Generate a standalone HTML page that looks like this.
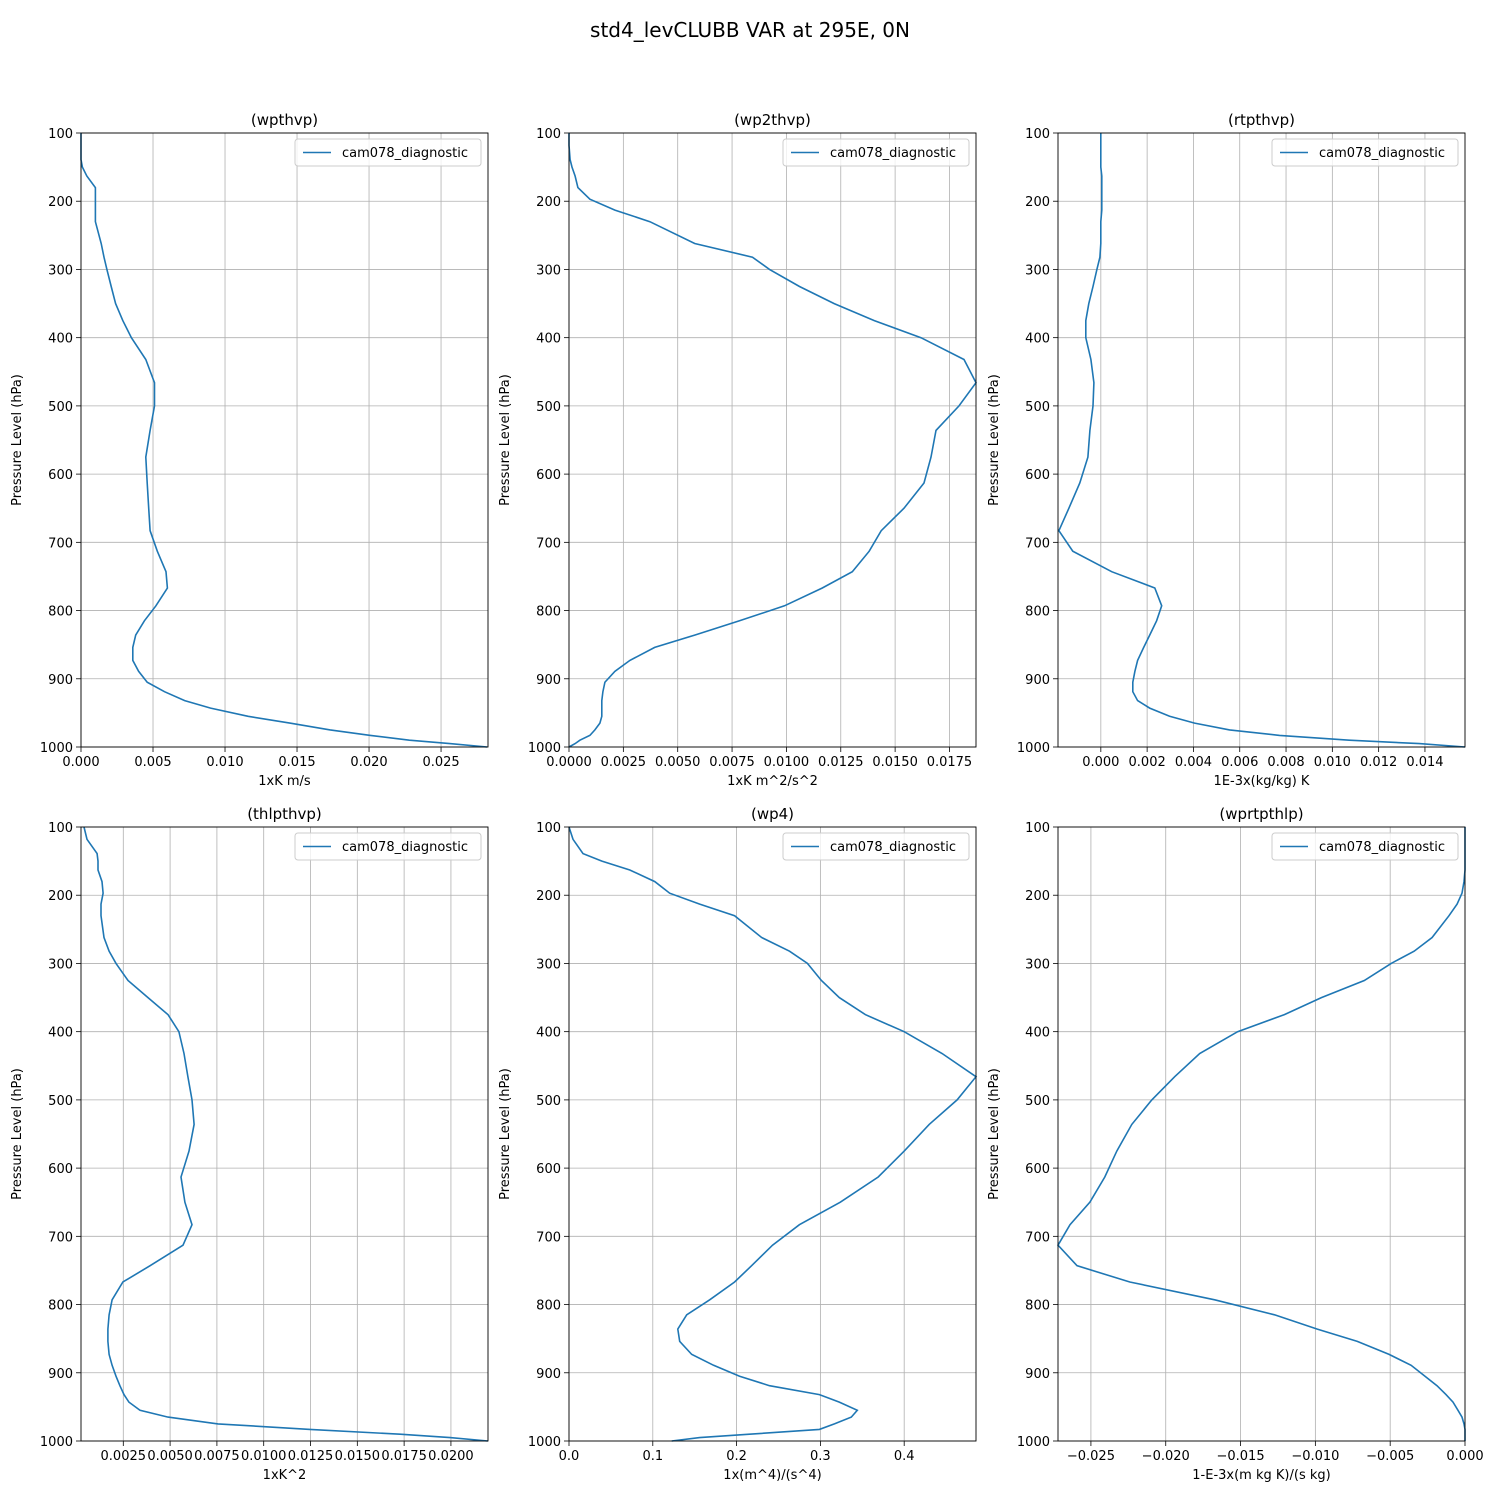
<!DOCTYPE html>
<html><head><meta charset="utf-8"><style>
body{margin:0;background:#fff;font-family:"Liberation Sans","DejaVu Sans",sans-serif}
svg text{font-family:"DejaVu Sans","Liberation Sans",sans-serif}
</style></head><body>
<svg id="fig" width="1500" height="1500" xmlns="http://www.w3.org/2000/svg">
<rect width="1500" height="1500" fill="#fff"/>
<text x="750" y="37" text-anchor="middle" font-size="20">std4_levCLUBB VAR at 295E, 0N</text>
</svg>
<script>
const pressure=[100,118,139,150,163,180,197,213,230,262,282,300,325,350,375,400,432,466,500,536,575,613,650,683,713,743,767,793,815,836,854,873,889,905,919,932,943,955,965,975,983,990,995,1000];
const wpthvp=[0,0,0,0.0001,0.0004,0.001,0.001,0.001,0.001,0.0014,0.0016,0.0018,0.0021,0.0024,0.0029,0.0035,0.0045,0.0051,0.0051,0.0048,0.0045,0.0046,0.0047,0.0048,0.0053,0.0059,0.006,0.0052,0.0044,0.0038,0.0036,0.0036,0.004,0.0046,0.0058,0.0072,0.009,0.0116,0.0145,0.0173,0.0201,0.0228,0.0256,0.0282];
const wp2thvp_px=[569,569,570,572,575,578,590,615,650,695,753,770,800,835,875,922,965,977,960,937,932,925,905,882,870,853,823,785,740,695,655,630,615,605,603,602,602,602,600,595,590,580,575,569];
const wp2thvp=wp2thvp_px.map(x=>+((x-569)/21800).toFixed(5));
const rtpthvp=[1101,1101,1101,1101,1102,1102,1102,1102,1101,1101,1100,1097,1093,1089,1086,1086,1091,1094,1093,1090,1088,1080,1069,1059,1073,1112,1155,1162,1157,1150,1144,1138,1135,1133,1133,1138,1150,1170,1195,1230,1280,1350,1420,1466].map(x=>+((x-1101)/23200).toFixed(5));
const thlpthvp=[84,87,97,98,98,102,103,101,101,104,109,116,128,148,168,179,184,188,192,194,189,181,185,192,183,150,123,112,109,108,108,109,112,116,120,124,129,140,168,218,310,400,450,488].map(x=>+(0.000241+(x-81)/18727).toFixed(5));
const wp4=[569,573,583,602,630,655,670,700,735,762,790,808,822,840,866,905,943,977,958,930,905,879,841,800,773,752,735,710,687,678,680,692,714,740,770,820,840,858,852,835,820,750,700,672].map(x=>+((x-569)/840).toFixed(4));
const wprtpthlp=[1466,1466,1466,1466,1466,1465,1463,1458,1450,1433,1415,1392,1365,1322,1285,1238,1200,1175,1152,1132,1117,1105,1090,1070,1058,1077,1130,1215,1275,1318,1358,1390,1412,1426,1438,1447,1454,1459,1463,1465,1466,1466,1466,1466].map(x=>+((x-1466)/15000).toFixed(5));
const yTicks=[100,200,300,400,500,600,700,800,900,1000];
const panels=[
 {name:"wpthvp",vals:wpthvp,x0:81,y0:133,xmin:0,xmax:0.02826,ticks:[0,0.005,0.01,0.015,0.02,0.025],dec:3,xl:"1xK m/s"},
 {name:"wp2thvp",vals:wp2thvp,x0:569,y0:133,xmin:0,xmax:0.01872,ticks:[0,0.0025,0.005,0.0075,0.01,0.0125,0.015,0.0175],dec:4,xl:"1xK m^2/s^2"},
 {name:"rtpthvp",vals:rtpthvp,x0:1058,y0:133,xmin:-0.00185,xmax:0.01573,ticks:[0,0.002,0.004,0.006,0.008,0.01,0.012,0.014],dec:3,xl:"1E-3x(kg/kg) K"},
 {name:"thlpthvp",vals:thlpthvp,x0:81,y0:827,xmin:0.000241,xmax:0.02198,ticks:[0.0025,0.005,0.0075,0.01,0.0125,0.015,0.0175,0.02],dec:4,xl:"1xK^2"},
 {name:"wp4",vals:wp4,x0:569,y0:827,xmin:0,xmax:0.4857,ticks:[0,0.1,0.2,0.3,0.4],dec:1,xl:"1x(m^4)/(s^4)"},
 {name:"wprtpthlp",vals:wprtpthlp,x0:1058,y0:827,xmin:-0.0272,xmax:0,ticks:[-0.025,-0.02,-0.015,-0.01,-0.005,0],dec:3,xl:"1-E-3x(m kg K)/(s kg)"}
];
const NS="http://www.w3.org/2000/svg";
const fig=document.getElementById('fig');
function mk(tag,attrs,parent){const e=document.createElementNS(NS,tag);for(const k in attrs)e.setAttribute(k,attrs[k]);(parent||fig).appendChild(e);return e;}
const W=407,H=614;
panels.forEach(p=>{
 const g=mk('g',{});
 
 
 const xs=v=>p.x0+(v-p.xmin)/(p.xmax-p.xmin)*W;
 const ys=v=>p.y0+(v-100)/900*H;
 p.ticks.forEach(t=>{
  const x=xs(t);
  const gl=mk('line',{x1:x,x2:x,y1:p.y0,y2:p.y0+H,stroke:'#b0b0b0','stroke-width':0.8},g);
  
  
  mk('line',{x1:x,x2:x,y1:p.y0+H,y2:p.y0+H+5,stroke:'#000','stroke-width':0.8},g);
  const tl=mk('text',{x:x,y:p.y0+H+19,'text-anchor':'middle','font-size':13},g);
  
  
  tl.textContent=t.toFixed(p.dec).replace('-','\u2212');
 });
 yTicks.forEach(t=>{
  const y=ys(t);
  const gl=mk('line',{x1:p.x0,x2:p.x0+W,y1:y,y2:y,stroke:'#b0b0b0','stroke-width':0.8},g);
  
  
  mk('line',{x1:p.x0-5,x2:p.x0,y1:y,y2:y,stroke:'#000','stroke-width':0.8},g);
  const tl=mk('text',{x:p.x0-8,y:y+5,'text-anchor':'end','font-size':13},g);
  
  
  tl.textContent=t;
 });
 const d=p.vals.map((v,i)=>(i?'L':'M')+xs(v).toFixed(1)+','+ys(pressure[i]).toFixed(1)).join(' ');
 const line=mk('path',{d:d,fill:'none',stroke:'#1f77b4','stroke-width':1.6},g);
 
 
 mk('rect',{x:p.x0,y:p.y0,width:W,height:H,fill:'none',stroke:'#000','stroke-width':0.9},g);
 const tt=mk('text',{x:p.x0+W/2,y:p.y0-8,'text-anchor':'middle','font-size':15},g);
 
 
 tt.textContent='('+p.name+')';
 const xl=mk('text',{x:p.x0+W/2,y:p.y0+H+38,'text-anchor':'middle','font-size':13},g);
 
 
 xl.textContent=p.xl;
 const yx=p.x0-60,yy=p.y0+H/2;
 const yl=mk('text',{x:yx,y:yy,'text-anchor':'middle','font-size':13,transform:'rotate(-90 '+yx+' '+yy+')'},g);
 
 
 yl.textContent='Pressure Level (hPa)';
 const lg=mk('g',{},g);
 
 
 mk('rect',{x:p.x0+W-193,y:p.y0+6,width:186,height:27,rx:3,fill:'#fff','fill-opacity':0.8,stroke:'#ccc'},lg);
 mk('line',{x1:p.x0+W-185,x2:p.x0+W-157,y1:p.y0+19.5,y2:p.y0+19.5,stroke:'#1f77b4','stroke-width':1.6},lg);
 const lt=mk('text',{x:p.x0+W-146,y:p.y0+24,'font-size':13},lg);
 
 
 lt.textContent='cam078_diagnostic';
});
</script>
</body></html>
